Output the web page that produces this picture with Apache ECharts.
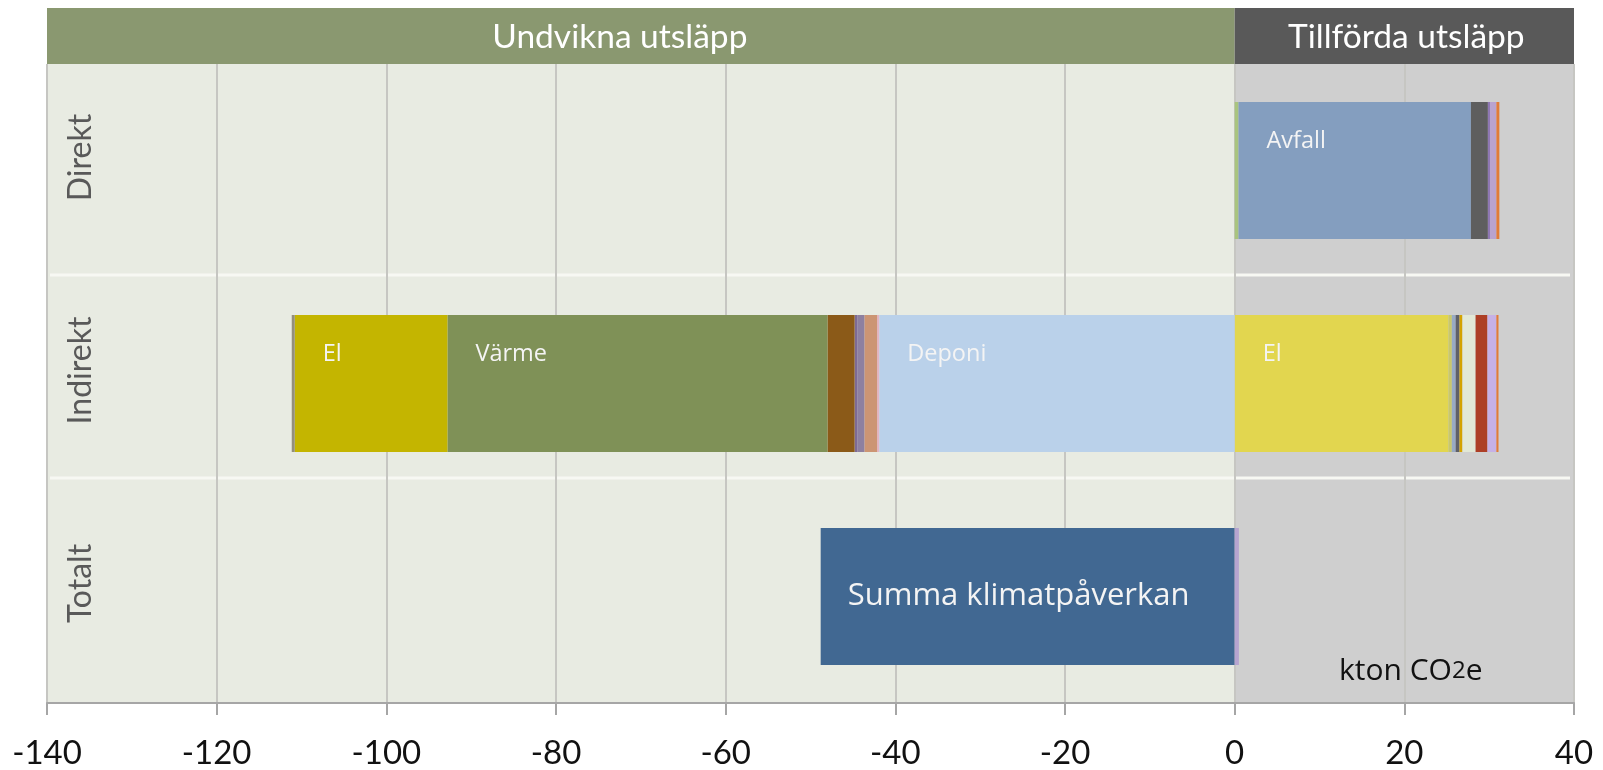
<!DOCTYPE html>
<html>
<head>
<meta charset="utf-8">
<script src="https://cdn.jsdelivr.net/npm/echarts@6/dist/echarts.min.js"></script>
<style>
  html, body { margin: 0; padding: 0; background: #fff; }
  #main { width: 1603px; height: 770px; }
</style>
</head>
<body>
<div id="main"></div>
<script>
// categories on the y axis, top to bottom
const categories = ['Direkt', 'Indirekt', 'Totalt'];

// x axis
const xMin = -140;
const xMax = 40;
const xStep = 20;

// shaded halves of the chart and their titles
const bandRanges = [[-140, 0], [0, 40]];
const bandTitles = ['Undvikna utsläpp', 'Tillförda utsläpp'];
const bandFills = ['#E8EBE2', '#CFCFCF'];
const headerFills = ['#8A9870', '#595959'];
const headerShift = [-21, 2];

// Direkt, stacked from 0 outwards (kton CO2e)
const direktValues = [0.45, 27.4, 2.0, 0.25, 0.75, 0.35];
const direktLabels = ['', 'Avfall', '', '', '', ''];
const direktColors = ['#A9C47F', '#849EBF', '#5E5E5E', '#8F78B3', '#B9A3CF', '#E07B39'];

// Indirekt, positive part
const indirektPosValues = [25.2, 0.4, 0.45, 0.45, 0.35, 1.55, 1.4, 1.05, 0.25];
const indirektPosLabels = ['El', '', '', '', '', '', '', '', ''];
const indirektPosColors = ['#E2D64F', '#C9C76A', '#98AAC4', '#5F6068', '#D4A300', '#E2E8D6', '#AD3F26', '#C6B1E6', '#E07B39'];

// Indirekt, negative part
const indirektNegValues = [-41.9, -0.25, -1.5, -0.8, -0.35, -3.2, -44.8, -18.0, -0.35];
const indirektNegLabels = ['Deponi', '', '', '', '', '', 'Värme', 'El', ''];
const indirektNegColors = ['#BAD1EA', '#E3B5C4', '#CC9574', '#8E80A0', '#7E6B94', '#8B5A18', '#7F9157', '#C4B500', '#948F7B'];

// Totalt
const totaltValues = [-48.8, 0.5];
const totaltLabels = ['Summa klimatpåverkan', ''];
const totaltColors = ['#416892', '#B6A4CF'];

const chart = echarts.init(document.getElementById('main'));

const series = [];

// background halves + header boxes
series.push({
  type: 'custom',
  z: 0,
  clip: false,
  silent: true,
  encode: { x: [0, 1], y: 2 },
  data: bandRanges.map(r => [r[0], r[1], 0]),
  renderItem: function (params, api) {
    const cs = params.coordSys;
    const x0 = api.coord([api.value(0), 0])[0];
    const x1 = api.coord([api.value(1), 0])[0];
    const i = params.dataIndex;
    return {
      type: 'group',
      children: [
        { type: 'rect', shape: { x: x0, y: cs.y, width: x1 - x0, height: cs.height }, style: { fill: bandFills[i] } },
        { type: 'rect', shape: { x: x0, y: cs.y - 56, width: x1 - x0, height: 56 }, style: { fill: headerFills[i] } },
        {
          type: 'text', x: (x0 + x1) / 2 + headerShift[i], y: cs.y - 27,
          style: { text: bandTitles[i], fill: '#FFFFFF', fontSize: 33.5, fontFamily: 'Lato', align: 'center', verticalAlign: 'middle' }
        }
      ]
    };
  }
});

function addRow(rowIndex, values, labels, colors, big) {
  values.forEach(function (v, k) {
    series.push({
      type: 'bar',
      stack: 'total',
      z: 2,
      barWidth: 137,
      data: categories.map((c, i) => (i === rowIndex ? v : null)),
      itemStyle: { color: colors[k] },
      label: {
        show: labels[k] !== '',
        formatter: labels[k],
        position: big ? 'insideLeft' : 'insideTopLeft',
        distance: 0,
        offset: big ? [27, 0] : [28, 27],
        color: '#F4F4F4',
        fontSize: big ? 31 : 23.5,
        fontFamily: 'Open Sans'
      },
      emphasis: { disabled: true }
    });
  });
}

addRow(0, direktValues, direktLabels, direktColors, false);
addRow(1, indirektPosValues, indirektPosLabels, indirektPosColors, false);
addRow(1, indirektNegValues, indirektNegLabels, indirektNegColors, false);
addRow(2, totaltValues, totaltLabels, totaltColors, true);

const option = {
  animation: false,
  grid: { left: 47, right: 29, top: 64, bottom: 65, containLabel: false },
  xAxis: {
    type: 'value',
    min: xMin,
    max: xMax,
    interval: xStep,
    z: 1,
    axisLine: { show: true, onZero: false, lineStyle: { color: '#A6A6A6', width: 2 } },
    axisTick: { show: true, length: 12, lineStyle: { color: '#A6A6A6', width: 2 } },
    axisLabel: { color: '#111111', fontSize: 33, fontFamily: 'Lato', margin: 34 },
    splitLine: { show: true, lineStyle: { color: '#C6C6C2', width: 2 } }
  },
  yAxis: {
    type: 'category',
    data: categories,
    inverse: true,
    z: 1,
    axisLine: { show: false },
    axisTick: { show: false },
    splitLine: { show: false },
    axisLabel: {
      inside: true,
      rotate: 90,
      margin: 18,
      padding: [0, 0, 0, 26],
      color: '#595959',
      fontSize: 32,
      fontFamily: 'Lato',
      fontWeight: 'normal'
    }
  },
  graphic: [
    { type: 'line', z: 1, shape: { x1: 50, y1: 275, x2: 1570, y2: 275 }, style: { stroke: '#F7F8F3', lineWidth: 3 } },
    { type: 'line', z: 1, shape: { x1: 50, y1: 478, x2: 1570, y2: 478 }, style: { stroke: '#F7F8F3', lineWidth: 3 } },
    {
      type: 'text', z: 3, x: 1339, y: 671,
      style: {
        text: '{a|kton CO}{b|2}{a|e}',
        verticalAlign: 'middle',
        rich: {
          a: { fontSize: 30, fontFamily: 'Open Sans', fill: '#111111', color: '#111111' },
          b: { fontSize: 24, fontFamily: 'Open Sans', fill: '#111111', color: '#111111' }
        }
      }
    }
  ],
  series: series
};

chart.setOption(option);
</script>
</body>
</html>
